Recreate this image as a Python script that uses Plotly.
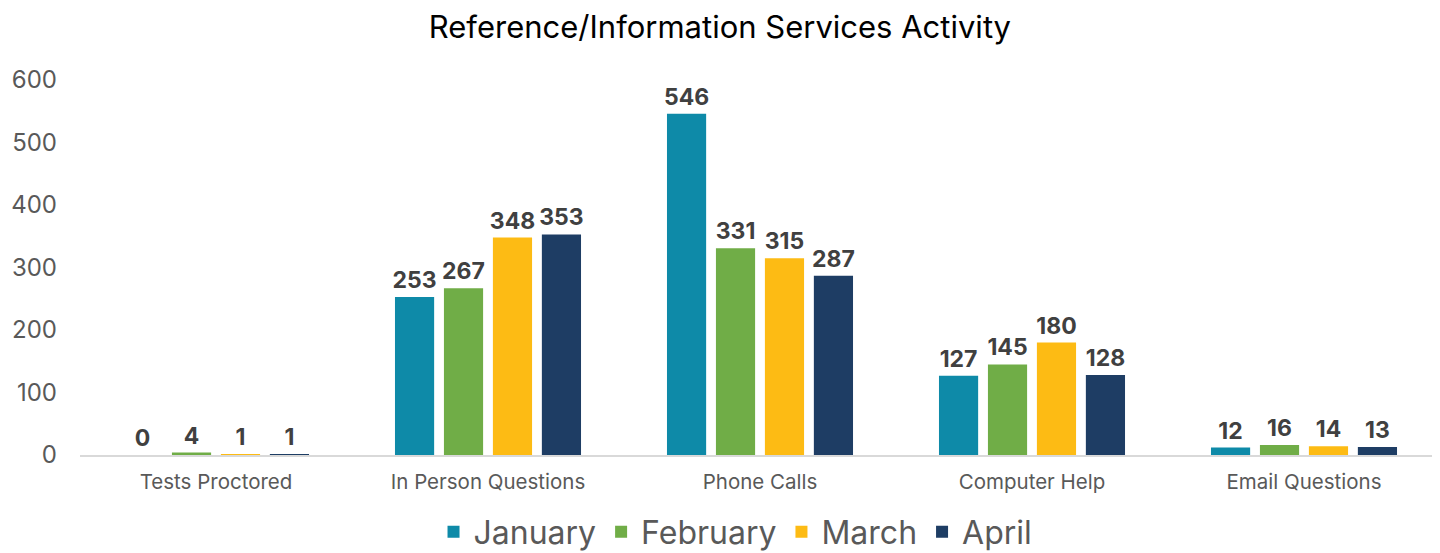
import plotly.graph_objects as go

categories = ["Tests Proctored", "In Person Questions", "Phone Calls", "Computer Help", "Email Questions"]
january = [0, 253, 546, 127, 12]
february = [4, 267, 331, 145, 16]
march = [1, 348, 315, 180, 14]
april = [1, 353, 287, 128, 13]
series_names = ["January", "February", "March", "April"]
colors = ["#0E8AA8", "#70AD47", "#FDBB14", "#1E3D64"]

fig = go.Figure()
for name, vals, c in zip(series_names, [january, february, march, april], colors):
    fig.add_trace(go.Bar(
        x=categories, y=vals, name=name, marker_color=c, marker_line_width=0,
        text=[str(v) for v in vals], textposition="outside", constraintext="none",
        textfont=dict(family="Inter", size=23, color="#404040", weight="bold"),
        cliponaxis=False,
    ))

fig.update_layout(
    width=1440, height=553,
    paper_bgcolor="white", plot_bgcolor="white",
    margin=dict(l=72, r=8, t=72, b=106, autoexpand=False),
    barmode="group", bargap=0.28, bargroupgap=0.2,
    title=dict(text="Reference/Information Services Activity", x=0.4944, xanchor="center",
               y=0.966, yanchor="middle",
               font=dict(family="Inter", size=31, color="#000000")),
    font=dict(family="Inter", color="#595959"),
    xaxis=dict(showline=True, linecolor="#D9D9D9", linewidth=2, showgrid=False,
               tickfont=dict(size=20.5, color="#595959"), ticks="", automargin=False,
               ticklabelstandoff=7),
    yaxis=dict(range=[0, 600], dtick=100, showgrid=False, zeroline=False, showline=False,
               tickfont=dict(size=24, color="#595959"), ticklabelstandoff=22, automargin=False),
    legend=dict(orientation="h", x=0.482, xanchor="center", y=-0.205, yanchor="middle",
                font=dict(size=32, color="#595959"), itemwidth=30, traceorder="normal"),
)
fig.write_html("out.html")
